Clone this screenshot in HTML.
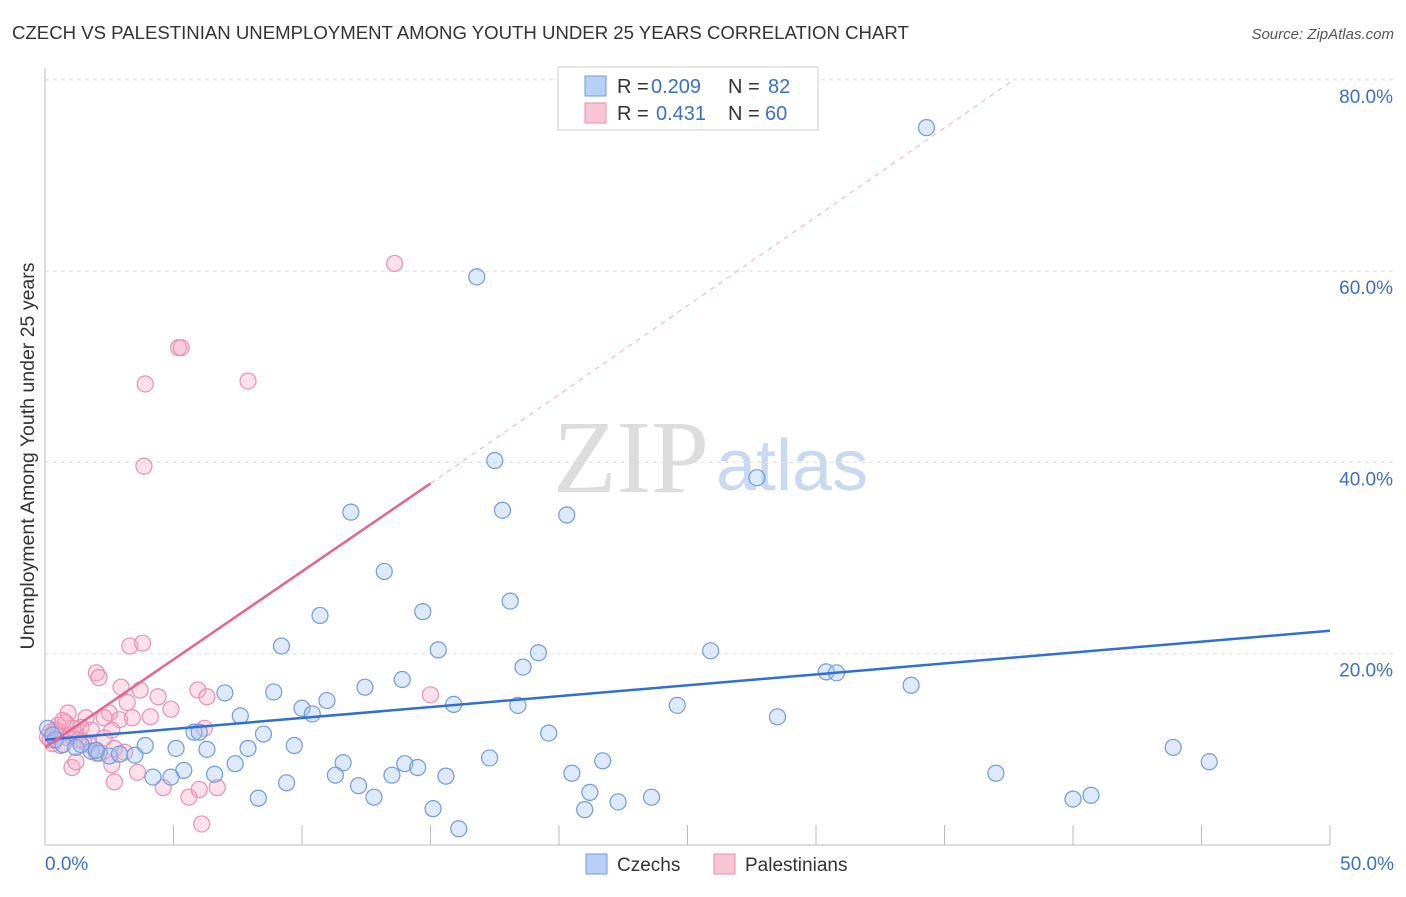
<!DOCTYPE html>
<html><head><meta charset="utf-8"><style>
body{margin:0;background:#fff;font-family:"Liberation Sans",sans-serif}
</style></head><body>
<svg width="1406" height="892" xmlns="http://www.w3.org/2000/svg">
<text x="12" y="39" font-size="18.6" fill="#333">CZECH VS PALESTINIAN UNEMPLOYMENT AMONG YOUTH UNDER 25 YEARS CORRELATION CHART</text>
<text x="1394" y="39" font-size="15" fill="#555" font-style="italic" text-anchor="end">Source: ZipAtlas.com</text>
<text x="34" y="456" font-size="19.5" fill="#333" text-anchor="middle" transform="rotate(-90 34 456)">Unemployment Among Youth under 25 years</text>
<text x="553" y="492" font-size="104" fill="#ddd" font-family="Liberation Serif">ZIP</text>
<text x="716" y="490" font-size="72" fill="#c9d9f0">atlas</text>
<g id="grid"></g><g id="pts"></g><g id="lines"></g>
<g>
<rect x="558" y="67" width="260" height="63" fill="#fff" stroke="#ccc"/>
<rect x="585" y="76" width="21" height="20" fill="#b8d0f5" stroke="#6f9be0"/>
<rect x="585" y="103" width="21" height="20" fill="#f8c5d5" stroke="#ea8fae"/>
<text x="617" y="93" font-size="20" fill="#333">R =</text><text x="651" y="93" font-size="20" fill="#3a6fd0">0.209</text>
<text x="728" y="93" font-size="20" fill="#333">N =</text><text x="768" y="93" font-size="20" fill="#3a6fd0">82</text>
<text x="617" y="120" font-size="20" fill="#333">R =</text><text x="656" y="120" font-size="20" fill="#3a6fd0">0.431</text>
<text x="728" y="120" font-size="20" fill="#333">N =</text><text x="765" y="120" font-size="20" fill="#3a6fd0">60</text>
</g>
<g>
<rect x="586" y="854" width="21" height="20" fill="#b8d0f5" stroke="#6f9be0"/>
<text x="617" y="871" font-size="19" fill="#333">Czechs</text>
<rect x="714" y="854" width="21" height="20" fill="#f8c5d5" stroke="#ea8fae"/>
<text x="745" y="871" font-size="19" fill="#333">Palestinians</text>
</g>
</svg>
<script>
const yTicks=[20,40,60,80];
const xTickLabels=["0.0%","50.0%"];
const czX=[34.3,16.8,27.7,17.5,11.9,17.8,20.3,13.2,18.1,14.7,10.7,9.2,15.3,19.2,25.9,18.6,30.4,30.8,33.7,13.9,12.45,7.0,8.9,10.97,10.0,10.4,15.9,18.4,24.6,7.6,28.5,5.8,6.0,8.5,19.6,3.9,5.1,6.3,7.9,9.7,43.9,45.3,17.3,21.7,11.6,14.0,14.5,7.4,5.4,4.2,4.9,6.6,11.3,13.5,15.6,20.5,37.0,9.4,12.2,21.2,8.3,12.8,23.6,22.3,40.7,40.0,15.1,21.0,16.1,0.1,0.4,0.7,1.2,1.8,2.1,2.5,2.9,3.5,1.4,2.0,0.3];
const czY=[75.0,59.4,38.4,40.2,34.8,35.0,34.5,28.6,25.5,24.4,24.0,20.8,20.4,20.1,20.3,18.6,18.1,18.0,16.7,17.3,16.5,15.9,16.0,15.1,14.3,13.7,14.7,14.6,14.6,13.5,13.4,11.8,11.8,11.6,11.7,10.4,10.1,10.0,10.1,10.4,10.2,8.7,9.1,8.8,8.6,8.5,8.1,8.5,7.8,7.1,7.1,7.4,7.3,7.3,7.2,7.5,7.5,6.5,6.2,5.5,4.9,5.0,5.0,4.5,5.2,4.8,3.8,3.7,1.7,12.2,11.0,10.5,10.2,9.8,9.6,9.3,9.5,9.4,10.5,9.9,11.5];
const paX=[13.6,5.2,5.3,3.9,7.9,3.85,3.3,3.8,2.0,2.1,2.96,3.7,5.95,4.4,6.3,15.0,3.2,4.9,0.9,2.5,1.6,2.3,4.1,2.9,3.4,6.2,1.4,1.8,2.6,0.6,1.0,2.3,1.7,2.7,3.1,2.6,3.6,1.05,1.2,2.7,4.6,5.6,6.0,6.7,6.1,0.5,0.2,0.8,1.2,0.3,0.4,0.9,1.5,0.2,0.6,1.1,0.7,2.0,1.3,0.1];
const paY=[60.8,52.0,52.0,48.2,48.5,39.6,20.8,21.1,18.0,17.5,16.5,16.2,16.2,15.5,15.5,15.7,14.9,14.2,13.8,13.8,13.3,13.3,13.4,13.1,13.3,12.2,12.3,12.0,12.0,11.8,11.5,11.2,10.5,10.1,9.7,8.4,7.6,8.1,8.7,6.6,6.0,5.0,5.8,6.0,2.2,12.5,11.0,12.8,11.6,10.6,12.0,11.2,10.8,11.8,10.4,12.2,13.0,9.6,11.0,11.3];
const czLine=[[0,11.0],[50,22.4]];
const paSolid=[[0,10.2],[15,37.8]];
const paDash=[[15,37.8],[37.7,80]];
const X=v=>45+v*25.7, Y=v=>845-v*9.565;
const NS="http://www.w3.org/2000/svg";
function mk(t,a,p){const e=document.createElementNS(NS,t);for(const k in a)e.setAttribute(k,a[k]);p.appendChild(e);return e;}
const g=document.getElementById('grid');
yTicks.forEach(t=>{
 const l=mk('line',{x1:45,x2:1394,y1:Y(t),y2:Y(t),stroke:'#ddd','stroke-dasharray':'4 4'},g);
 
 
 const tx=mk('text',{x:1393,y:Y(t)+23,'font-size':19,fill:'#3a6fd0','text-anchor':'end'},g);
 tx.textContent=t.toFixed(1)+'%';
 
 
});
const ax=mk('line',{x1:45,x2:45,y1:68,y2:845,stroke:'#bbb'},g);


const bx=mk('line',{x1:45,x2:1330,y1:845,y2:845,stroke:'#bbb'},g);


for(let i=0;i<=50;i+=5){const t=mk('line',{x1:X(i),x2:X(i),y1:825,y2:845,stroke:'#bbb'},g);
 
 }
[[0,'start',45],[50,'end',1394]].forEach((d,i)=>{const t=mk('text',{x:d[2],y:870,'font-size':19,fill:'#3a6fd0','text-anchor':d[1]},g);t.textContent=xTickLabels[i];
 
 });
const p=document.getElementById('pts');
paX.forEach((v,i)=>{const c=mk('circle',{cx:X(v),cy:Y(paY[i]),r:8,fill:'rgba(246,170,195,0.35)',stroke:'#ec8fb0','stroke-width':1.2},p);
 
 });
czX.forEach((v,i)=>{const c=mk('circle',{cx:X(v),cy:Y(czY[i]),r:8,fill:'rgba(160,195,240,0.35)',stroke:'#6f9be0','stroke-width':1.2},p);
 
 });
const L=document.getElementById('lines');
function ln(s,col,w,dash,name){const a={x1:X(s[0][0]),y1:Y(s[0][1]),x2:X(s[1][0]),y2:Y(s[1][1]),stroke:col,'stroke-width':w};if(dash)a['stroke-dasharray']=dash;const e=mk('line',a,L);
 
 }
ln(czLine,'#2f6fd6',2.5,null,'czech-trend-line');
ln(paSolid,'#e8638f',2.5,null,'palestinian-trend-line');
ln(paDash,'#efb0c5',1,'5 5','palestinian-trend-extension');
</script>
</body></html>
